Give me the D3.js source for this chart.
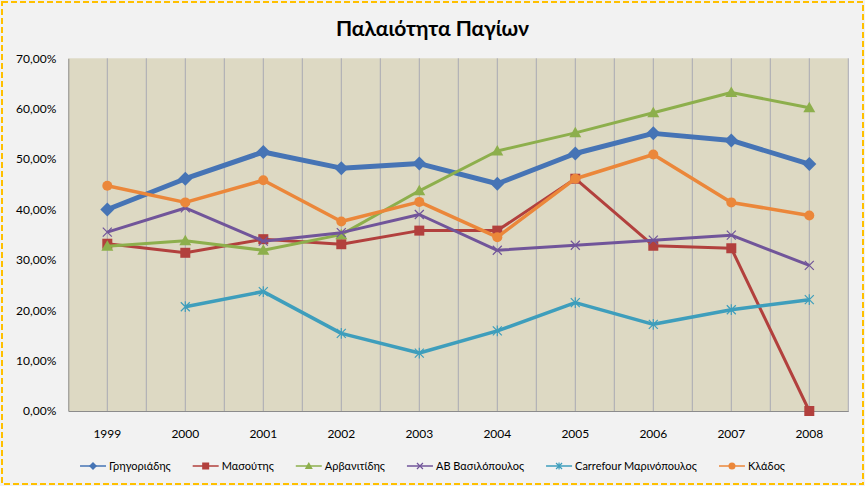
<!DOCTYPE html>
<html>
<head>
<meta charset="utf-8">
<script src="https://cdn.jsdelivr.net/npm/d3@7"></script>
<style>
  html, body { margin: 0; padding: 0; background: #fff; }
  svg { display: block; }
  text { font-family: Lato, "Open Sans", sans-serif; fill: #000; }
</style>
</head>
<body>
<svg id="chart" width="865" height="486"></svg>
<script>
// ---- data ----
const years = ["1999","2000","2001","2002","2003","2004","2005","2006","2007","2008"];
const seriesNames = ["Γρηγοριάδης","Μασούτης","Αρβανιτίδης","AB Βασιλόπουλος","Carrefour Μαρινόπουλος","Κλάδος"];
const grigoriadis = [0.400, 0.461, 0.514, 0.482, 0.491, 0.451, 0.511, 0.551, 0.537, 0.490];
const masoutis    = [0.332, 0.314, 0.341, 0.331, 0.358, 0.358, 0.461, 0.328, 0.323, 0.000];
const arvanitidis = [0.327, 0.338, 0.319, 0.350, 0.437, 0.516, 0.552, 0.592, 0.632, 0.602];
const abVasil     = [0.355, 0.403, 0.337, 0.354, 0.390, 0.319, 0.329, 0.339, 0.349, 0.289];
const carrefour   = [null, 0.207, 0.237, 0.154, 0.115, 0.159, 0.215, 0.172, 0.201, 0.221];
const klados      = [0.447, 0.414, 0.458, 0.376, 0.415, 0.345, 0.461, 0.509, 0.414, 0.388];
const yTicks = [0, 0.1, 0.2, 0.3, 0.4, 0.5, 0.6, 0.7];
const chartTitle = "Παλαιότητα Παγίων";

const seriesValues = [grigoriadis, masoutis, arvanitidis, abVasil, carrefour, klados];
const styles = [
  {color: "#4674B5", width: 5,   marker: "diamond", size: 7},
  {color: "#B2403D", width: 3,   marker: "square",  size: 5},
  {color: "#8DAF4C", width: 3,   marker: "triangle",size: 6},
  {color: "#71559A", width: 3,   marker: "x",       size: 4.5},
  {color: "#3E9EBC", width: 3.5, marker: "star",    size: 4.5},
  {color: "#EB873A", width: 3.5, marker: "circle",  size: 5}
];

const svg = d3.select("#chart");
const W = 865, H = 486;

// background
svg.append("rect").attr("x",0).attr("y",0).attr("width",W).attr("height",H).attr("fill","#F2F2F2");
svg.append("rect").attr("x",2).attr("y",2).attr("width",W-4).attr("height",H-4)
  .attr("fill","none").attr("stroke","#FFC000").attr("stroke-width",2).attr("stroke-dasharray","6,3");

const plot = {left: 68.3, right: 848.3, top: 58.3, bottom: 411};

const x = d3.scaleBand().domain(years).range([plot.left, plot.right]).padding(0);
const cx = d => x(d) + x.bandwidth()/2;
const y = d3.scaleLinear().domain([0, 0.7]).range([plot.bottom, plot.top]);

// plot area
svg.append("rect").attr("x",plot.left).attr("y",plot.top)
  .attr("width",plot.right-plot.left).attr("height",plot.bottom-plot.top).attr("fill","#DDD9C3");

// vertical gridlines at centers and boundaries
const gridX = [];
years.forEach((yr,i) => { if (i>0) gridX.push(x(yr)); gridX.push(cx(yr)); });
gridX.push(plot.right);
svg.append("g").selectAll("line").data(gridX).join("line")
  .attr("x1",d=>d).attr("x2",d=>d).attr("y1",plot.top).attr("y2",plot.bottom)
  .attr("stroke","#A9A9B3").attr("stroke-width",1);

// axes
const loc = d3.formatLocale({decimal: ",", thousands: ".", grouping: [3], currency: ["", "€"]});
const pct = loc.format(".2%");

const yAxis = svg.append("g").attr("transform",`translate(${plot.left},0)`)
  .call(d3.axisLeft(y).tickValues(yTicks).tickFormat(pct).tickSize(0).tickPadding(12));
yAxis.select(".domain").attr("stroke","#8C8C8C");
yAxis.selectAll("text").attr("font-size",12).attr("fill","#000");

const xAxis = svg.append("g").attr("transform",`translate(0,${plot.bottom})`)
  .call(d3.axisBottom(x).tickSize(0).tickPadding(18));
xAxis.select(".domain").attr("stroke","#8C8C8C");
xAxis.selectAll("text").attr("font-size",12).attr("fill","#000");

// markers
function drawMarker(g, type, s, color, px, py) {
  if (type === "diamond") {
    g.append("path").attr("d",`M${px},${py-s}L${px+s},${py}L${px},${py+s}L${px-s},${py}Z`).attr("fill",color);
  } else if (type === "square") {
    g.append("rect").attr("x",px-s).attr("y",py-s).attr("width",2*s).attr("height",2*s).attr("fill",color);
  } else if (type === "triangle") {
    g.append("path").attr("d",`M${px},${py-s}L${px+s},${py+s*0.75}L${px-s},${py+s*0.75}Z`).attr("fill",color);
  } else if (type === "circle") {
    g.append("circle").attr("cx",px).attr("cy",py).attr("r",s).attr("fill",color);
  } else if (type === "x") {
    g.append("path").attr("d",`M${px-s},${py-s}L${px+s},${py+s}M${px-s},${py+s}L${px+s},${py-s}`)
      .attr("stroke",color).attr("stroke-width",1.2).attr("fill","none");
  } else if (type === "star") {
    g.append("path").attr("d",`M${px-s},${py-s}L${px+s},${py+s}M${px-s},${py+s}L${px+s},${py-s}M${px},${py-s*1.2}L${px},${py+s*1.2}`)
      .attr("stroke",color).attr("stroke-width",1.2).attr("fill","none");
  }
}

const line = d3.line().defined(d => d.v !== null).x(d => cx(d.year)).y(d => y(d.v));

seriesValues.forEach((vals, i) => {
  const st = styles[i];
  const pts = years.map((yr, j) => ({year: yr, v: vals[j]}));
  const g = svg.append("g");
  g.append("path").datum(pts).attr("d", line).attr("fill","none")
    .attr("stroke", st.color).attr("stroke-width", st.width).attr("stroke-linejoin","round");
  pts.filter(p => p.v !== null).forEach(p => drawMarker(g, st.marker, st.size, st.color, cx(p.year), y(p.v)));
});

// title
svg.append("text").attr("x", W/2).attr("y", 36).attr("text-anchor","middle")
  .attr("font-size", 21).attr("font-weight","bold").text(chartTitle);

// legend
const legendY = 466, lineLen = 26, textGap = 3, itemGap = 22, legFont = 11;
const leg = svg.append("g");
const items = seriesNames.map((name, i) => {
  const g = leg.append("g");
  const t = g.append("text").attr("x", lineLen + textGap).attr("y", legendY).attr("dy","0.35em")
    .attr("font-size", legFont).text(name);
  const w = t.node().getComputedTextLength();
  g.append("line").attr("x1",0).attr("x2",lineLen).attr("y1",legendY).attr("y2",legendY)
    .attr("stroke", styles[i].color).attr("stroke-width", 1.5);
  const mk = {diamond:4, square:3.5, triangle:4, circle:3.5, x:3, star:3}[styles[i].marker];
  drawMarker(g, styles[i].marker, mk, styles[i].color, lineLen/2, legendY);
  return {g, width: lineLen + textGap + w};
});
const total = d3.sum(items, d => d.width) + itemGap * (items.length - 1);
let cur = W/2 - total/2;
items.forEach(it => { it.g.attr("transform", `translate(${cur},0)`); cur += it.width + itemGap; });
</script>
</body>
</html>
